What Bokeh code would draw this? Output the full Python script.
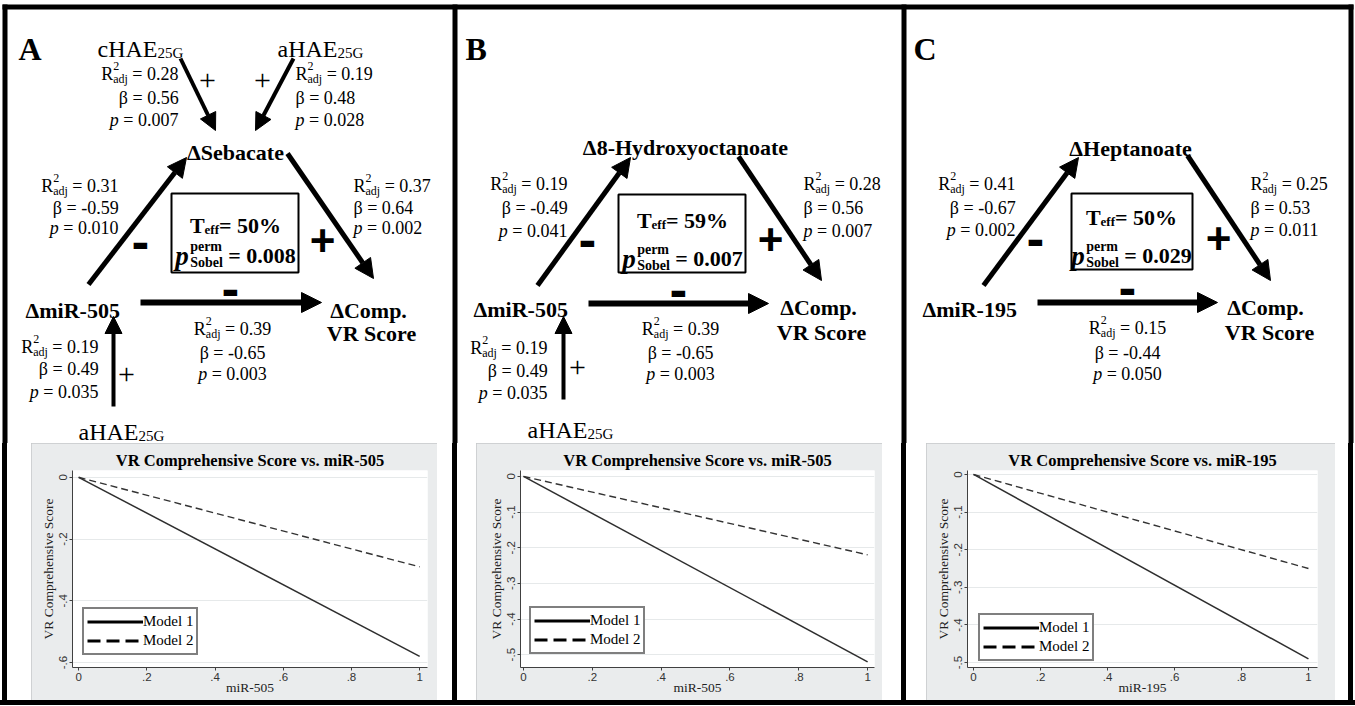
from bokeh.plotting import figure
from bokeh.models import (ColumnDataSource, Range1d, Arrow, NormalHead, FixedTicker,
                          CustomJSTickFormatter, Legend, LegendItem, Div)
from bokeh.layouts import column, row
from bokeh.embed import file_html
from bokeh.resources import INLINE

# ---------------- data ----------------
panel_letters = ["A", "B", "C"]
mirna_names = ["miR-505", "miR-505", "miR-195"]
mediator_names = ["Sebacate", "8-Hydroxyoctanoate", "Heptanoate"]
t_eff = ["50%", "59%", "50%"]
p_sobel_perm = ["0.008", "0.007", "0.029"]
# path a: miRNA -> metabolite
a_r2 = [0.31, 0.19, 0.41]
a_beta = [-0.59, -0.49, -0.67]
a_p = ["0.010", "0.041", "0.002"]
# path b: metabolite -> VR score
b_r2 = [0.37, 0.28, 0.25]
b_beta = [0.64, 0.56, 0.53]
b_p = ["0.002", "0.007", "0.011"]
# path c: miRNA -> VR score
c_r2 = [0.39, 0.39, 0.15]
c_beta = [-0.65, -0.65, -0.44]
c_p = ["0.003", "0.003", "0.050"]
# HAE covariate paths: cHAE->Sebacate, aHAE->Sebacate, aHAE->miR-505
hae_names = ["cHAE", "aHAE", "aHAE"]
hae_r2 = [0.28, 0.19, 0.19]
hae_beta = [0.56, 0.48, 0.49]
hae_p = ["0.007", "0.028", "0.035"]

chart_titles = ["VR Comprehensive Score vs. miR-505",
                "VR Comprehensive Score vs. miR-505",
                "VR Comprehensive Score vs. miR-195"]
chart_xlabels = ["miR-505", "miR-505", "miR-195"]
chart_ylabel = "VR Comprehensive Score"
line_x = [0, 1]
model1_A = [0, -0.58]
model2_A = [0, -0.29]
model1_B = [0, -0.52]
model2_B = [0, -0.22]
model1_C = [0, -0.49]
model2_C = [0, -0.25]
x_ticks = [0, 0.2, 0.4, 0.6, 0.8, 1]
y_ticks_A = [0, -0.2, -0.4, -0.6]
y_ticks_B = [0, -0.1, -0.2, -0.3, -0.4, -0.5]
y_ticks_C = [0, -0.1, -0.2, -0.3, -0.4, -0.5]
legend_labels = ["Model 1", "Model 2"]

# ---------------- text helpers ----------------
SERIF = "Liberation Serif"
W_REG = {' ': 250, '.': 250, '=': 564, '-': 333, '+': 564, '%': 833, 'R': 667, 'a': 444,
         'd': 500, 'j': 278, 'p': 500, 'c': 444, 'H': 722, 'A': 722, 'E': 611, 'G': 722,
         'T': 611, 'e': 444, 'f': 333, 'm': 778, 'i': 278, 'r': 333, 'o': 500, 's': 389,
         'S': 556, 'b': 500, 'l': 278, 'n': 500, 'h': 500, 'V': 722, 'C': 667, 'v': 500,
         'M': 889, 't': 278, 'y': 500, 'x': 500}
W_BOLD = {' ': 250, '.': 250, '=': 570, '-': 333, '%': 1000, 'T': 667, 'e': 444, 'f': 333,
          'S': 556, 'o': 500, 'b': 556, 'l': 278, 'p': 556, 'r': 444, 'm': 833, 'a': 500,
          'c': 444, 't': 333, 'i': 278, 'R': 722, 'C': 722, 'V': 722, 'H': 778, 'y': 500,
          'd': 556, 'x': 500, 'n': 556, 'h': 556, 's': 389}


def tw(s, size, bold=False):
    tab = W_BOLD if bold else W_REG
    return sum(tab.get(ch, 500) for ch in s) * size / 1000.0


TX = {k: [] for k in ["x", "y", "text", "font", "size", "style", "align", "baseline"]}


def put(x, y, s, size, style="normal", font=SERIF, align="left", baseline="alphabetic"):
    TX["x"].append(x)
    TX["y"].append(y)
    TX["text"].append(s)
    TX["font"].append(font)
    TX["size"].append("%gpx" % size)
    TX["style"].append(style)
    TX["align"].append(align)
    TX["baseline"].append(baseline)


def rich(x, y, pieces, align="left"):
    adv = []
    for pc in pieces:
        if pc[0] == "t":
            adv.append(tw(pc[1], pc[2], "bold" in pc[3]))
        else:
            adv.append(max(tw(pc[1], pc[3], "bold" in pc[4]), tw(pc[2], pc[3], "bold" in pc[4])))
    total = sum(adv)
    x0 = x - total if align == "right" else (x - total / 2.0 if align == "center" else x)
    for pc, a in zip(pieces, adv):
        if pc[0] == "t":
            s = pc[1]
            st = s.lstrip(" ")
            lead = tw(s[:len(s) - len(st)], pc[2], "bold" in pc[3])
            put(x0 + lead, y + pc[4], st, pc[2], pc[3])
        else:
            put(x0, y + pc[5], pc[1], pc[3], pc[4])
            put(x0, y + pc[6], pc[2], pc[3], pc[4])
        x0 += a


def stats(x, ys, r2, beta, p, align):
    rich(x, ys[0], [("t", "R", 18, "normal", 0), ("s", "2", "adj", 12, "normal", -8, 5),
                    ("t", " = %.2f" % r2, 18, "normal", 0)], align)
    rich(x, ys[1], [("t", "\u03b2 = %.2f" % beta, 18, "normal", 0)], align)
    rich(x, ys[2], [("t", "p", 18, "italic", 0), ("t", " = " + p, 18, "normal", 0)], align)


def minus(x, y):
    put(x, y, "-", 44, "bold", "DejaVu Sans", "center", "middle")


def plus_big(x, y):
    put(x, y, "+", 44, "bold", "Liberation Sans", "center", "middle")


def plus_thin(x, y):
    put(x, y, "+", 30, "normal", SERIF, "center", "middle")


def hae(x, y, name):
    rich(x, y, [("t", name, 24, "normal", 0), ("t", "25G", 15, "normal", 4)], "left")


def blank(w, h):
    f = figure(width=w, height=h, x_range=Range1d(0, w), y_range=Range1d(h, 0),
               output_backend="svg", toolbar_location=None, x_axis_location=None,
               y_axis_location=None, min_border=0, outline_line_color=None,
               background_fill_color="white", border_fill_color="white")
    f.grid.visible = False
    return f


# ---------------- diagram geometry (pixel layout) ----------------
G = [
    dict(letter=(18, 48), med=(235, 152), mir=(25, 310), comp=(368, 310), vr=(371, 333),
         box=(171, 193, 298, 272), teff=(235, 225), psob=(235, 255),
         ar_a=(88, 284, 186, 157), ar_b=(287, 153, 373, 278), ar_c=(140, 302, 321, 302),
         minus_a=(140, 242), minus_c=(230, 289), plus_b=(322, 240),
         st_a=("right", 118, [185, 207, 227]), st_b=("left", 353, [185, 207, 227]),
         st_c=("center", 232, [328, 352, 373])),
    dict(letter=(465, 48), med=(685, 147), mir=(473, 309), comp=(818, 307), vr=(821, 332),
         box=(618, 194, 745, 272), teff=(682, 220), psob=(682, 258),
         ar_a=(537, 285, 630, 157), ar_b=(738, 156, 821, 280), ar_c=(588, 303, 768, 303),
         minus_a=(587, 240), minus_c=(678, 290), plus_b=(770, 239),
         st_a=("right", 567, [183, 207, 230]), st_b=("left", 803, [183, 207, 230]),
         st_c=("center", 680, [328, 352, 373])),
    dict(letter=(913, 48), med=(1130, 148), mir=(922, 309), comp=(1265, 307), vr=(1269, 332),
         box=(1071, 193, 1192, 269), teff=(1131, 217), psob=(1131, 255),
         ar_a=(983, 285, 1078, 157), ar_b=(1187, 155, 1270, 280), ar_c=(1037, 302, 1217, 302),
         minus_a=(1035, 239), minus_c=(1127, 288), plus_b=(1218, 238),
         st_a=("right", 1015, [183, 207, 229]), st_b=("left", 1250, [183, 207, 229]),
         st_c=("center", 1127, [327, 352, 373])),
]

TOP_H = 443
top = blank(1355, TOP_H)
# panel borders
top.quad(left=[2, 2, 452, 901, 1348], right=[1353, 7, 457, 906, 1353],
         top=[4, 4, 4, 4, 4], bottom=[9, TOP_H, TOP_H, TOP_H, TOP_H],
         fill_color="black", line_color=None)

for i, g in enumerate(G):
    put(g["letter"][0], g["letter"][1], panel_letters[i], 32, "bold")
    put(g["med"][0], g["med"][1], "\u0394" + mediator_names[i], 22, "bold", align="center")
    put(g["mir"][0], g["mir"][1], "\u0394" + mirna_names[i], 22, "bold")
    put(g["comp"][0], g["comp"][1], "\u0394Comp.", 22, "bold", align="center")
    put(g["vr"][0], g["vr"][1], "VR Score", 22, "bold", align="center")
    l, t, r, b = g["box"]
    top.quad(left=[l], right=[r], top=[t], bottom=[b], fill_color=None,
             line_color="black", line_width=2)
    rich(g["teff"][0], g["teff"][1], [("t", "T", 22, "bold", 0), ("t", "eff", 13, "bold", 4),
                                     ("t", "= " + t_eff[i], 22, "bold", 0)], "center")
    rich(g["psob"][0], g["psob"][1], [("t", "p", 27, "bold italic", 0),
                                     ("s", "perm", "Sobel", 14, "bold", -9, 7),
                                     ("t", " = " + p_sobel_perm[i], 22, "bold", 0)], "center")
    for k in ["ar_a", "ar_b"]:
        xs, ys, xe, ye = g[k]
        top.add_layout(Arrow(end=NormalHead(size=19, fill_color="black", line_color="black"),
                             x_start=xs, y_start=ys, x_end=xe, y_end=ye,
                             line_width=5, line_color="black"))
    xs, ys, xe, ye = g["ar_c"]
    top.add_layout(Arrow(end=NormalHead(size=20, fill_color="black", line_color="black"),
                         x_start=xs, y_start=ys, x_end=xe, y_end=ye,
                         line_width=6, line_color="black"))
    minus(*g["minus_a"])
    minus(*g["minus_c"])
    plus_big(*g["plus_b"])
    al, x, ys_ = g["st_a"]
    stats(x, ys_, a_r2[i], a_beta[i], a_p[i], al)
    al, x, ys_ = g["st_b"]
    stats(x, ys_, b_r2[i], b_beta[i], b_p[i], al)
    al, x, ys_ = g["st_c"]
    stats(x, ys_, c_r2[i], c_beta[i], c_p[i], al)

# HAE covariates
hae(97, 48, hae_names[0])
hae(277, 48, hae_names[1])
for (xs, ys, xe, ye) in [(180, 58, 215, 130), (293, 58, 255, 130)]:
    top.add_layout(Arrow(end=NormalHead(size=17, fill_color="black", line_color="black"),
                         x_start=xs, y_start=ys, x_end=xe, y_end=ye,
                         line_width=4, line_color="black"))
plus_thin(207, 80)
plus_thin(262, 80)
stats(178, [73, 97, 119], hae_r2[0], hae_beta[0], hae_p[0], "right")
stats(295, [73, 97, 119], hae_r2[1], hae_beta[1], hae_p[1], "left")
for (lx, ly, ax, ay0, ay1, px, py, sx, sys_) in [
        (78, 431, 113, 406, 316, 126, 374, 98, [346, 368, 391]),
        (527, 429, 563, 399, 316, 577, 367, 547, [347, 370, 392])]:
    hae(lx, ly, hae_names[2])
    top.add_layout(Arrow(end=NormalHead(size=17, fill_color="black", line_color="black"),
                         x_start=ax, y_start=ay0, x_end=ax, y_end=ay1,
                         line_width=4, line_color="black"))
    plus_thin(px, py)
    stats(sx, sys_, hae_r2[2], hae_beta[2], hae_p[2], "right")

top.text(x="x", y="y", text="text", text_font="font", text_font_size="size",
         text_font_style="style", text_align="align", text_baseline="baseline",
         text_color="black", source=ColumnDataSource(TX))

# ---------------- charts ----------------
MID_H = 257
GRAY = "#eaeced"
fmt_code = """
if (Math.abs(tick) < 1e-9) return "0";
if (Math.abs(tick - Math.round(tick)) < 1e-9) return String(Math.round(tick));
let s = tick.toFixed(1);
return s.replace(/^(-?)0\\./, "$1.");
"""
NAN = float("nan")


def chart(i, w, borders, xr, yr, yticks, m1, m2, loc, toff):
    lb, rb, tb, bb = borders
    f = figure(width=w, height=MID_H, output_backend="svg", toolbar_location=None,
               x_range=Range1d(*xr), y_range=Range1d(*yr),
               min_border_left=lb, min_border_right=rb, min_border_top=tb,
               min_border_bottom=bb, background_fill_color="white",
               border_fill_color=GRAY, outline_line_color=None, title=chart_titles[i],
               styles={"outline": "1px solid #c6c9ca", "outline-offset": "-1px"})
    f.title.align = "center"
    f.title.offset = toff
    f.title.text_font = SERIF
    f.title.text_font_size = "16.5px"
    f.title.text_font_style = "bold"
    f.title.text_color = "black"
    f.title.standoff = 2
    f.xaxis.ticker = FixedTicker(ticks=x_ticks)
    f.yaxis.ticker = FixedTicker(ticks=yticks)
    f.ygrid.ticker = FixedTicker(ticks=yticks)
    f.xgrid.visible = False
    f.ygrid.grid_line_color = "#e6e9ea"
    f.ygrid.grid_line_width = 1
    f.axis.formatter = CustomJSTickFormatter(code=fmt_code)
    f.axis.axis_line_color = "#404040"
    f.axis.major_tick_line_color = "#404040"
    f.axis.minor_tick_line_color = None
    f.axis.major_tick_out = 3
    f.axis.major_tick_in = 0
    f.axis.major_label_standoff = 2
    f.axis.major_label_text_font = "Liberation Sans"
    f.axis.major_label_text_font_size = "11.5px"
    f.axis.major_label_text_color = "#333333"
    f.axis.axis_label_text_font = SERIF
    f.axis.axis_label_text_font_style = "normal"
    f.axis.axis_label_text_font_size = "13.5px"
    f.axis.axis_label_text_color = "#222222"
    f.yaxis.major_label_orientation = "vertical"
    f.yaxis.axis_label = chart_ylabel
    f.yaxis.axis_label_standoff = 1
    f.xaxis.axis_label = chart_xlabels[i]
    f.xaxis.axis_label_standoff = -4
    f.line(x=line_x, y=m1, line_color="#2e2e2e", line_width=1.5)
    f.line(x=line_x, y=m2, line_color="#333333", line_width=1.4, line_dash="7 4")
    # legend keys (Stata draws them thicker than the plotted lines)
    k1 = f.line(x=[NAN], y=[NAN], line_color="black", line_width=3)
    k2 = f.line(x=[NAN], y=[NAN], line_color="black", line_width=3, line_dash="13 6")
    leg = Legend(items=[LegendItem(label=legend_labels[0], renderers=[k1]),
                        LegendItem(label=legend_labels[1], renderers=[k2])],
                 location=loc, border_line_color="black", border_line_width=2,
                 background_fill_color="white", background_fill_alpha=1.0,
                 glyph_width=56, glyph_height=19, label_height=19, label_standoff=0,
                 padding=3, spacing=0, margin=0, label_text_font=SERIF,
                 label_text_font_size="15px", label_text_color="black")
    f.add_layout(leg)
    return f


chA = chart(0, 406, (41, 10, 27, 31), (-0.018, 1.023), (-0.616, 0.022), y_ticks_A,
            model1_A, model2_A, (10, 12), -7)
chB = chart(1, 406, (44, 8, 25, 32), (-0.0087, 1.020), (-0.536, 0.0166), y_ticks_B,
            model1_B, model2_B, (9, 13), -10)
chC = chart(2, 409, (41, 18, 25, 33), (-0.018, 1.027), (-0.513, 0.0105), y_ticks_C,
            model1_C, model2_C, (11, 6), -4)


def strip(w, bl, br):
    grad = ("linear-gradient(to right, #ffffff 0px, #ffffff %dpx, #000000 %dpx, "
            "#000000 %dpx, #ffffff %dpx, #ffffff 100%%)" % (bl, bl, br, br))
    return Div(text="", width=w, height=MID_H, margin=0,
               styles={"background": grad, "padding": "0px", "margin": "0px"})


s0 = strip(31, 2, 7)
s1 = strip(39, 15, 20)
s2 = strip(44, 19, 24)
s3 = strip(20, 13, 18)

bottom = Div(text="", width=1355, height=6, margin=0,
             styles={"background": "linear-gradient(to bottom, #000000 0px, #000000 5px, "
                                   "#ffffff 5px, #ffffff 100%)",
                     "padding": "0px", "margin": "0px"})

layout = column(top, row(s0, chA, s1, chB, s2, chC, s3), bottom)
open("out.html", "w").write(file_html(layout, INLINE))
